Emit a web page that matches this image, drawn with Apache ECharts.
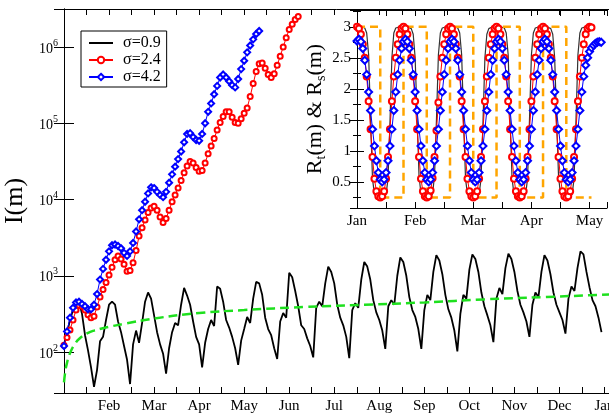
<!DOCTYPE html>
<html>
<head>
<meta charset="utf-8">
<title>I(m) and R(m)</title>
<script src="https://cdn.jsdelivr.net/npm/echarts@6/dist/echarts.min.js"></script>
<style>
  html, body { margin: 0; padding: 0; background: #fff; }
  #chart { width: 609px; height: 414px; }
</style>
</head>
<body>
<div id="chart"></div>
<script>
const SERIF = '"Liberation Serif", "DejaVu Serif", serif';

const MONTHS = ["Jan", "Feb", "Mar", "Apr", "May", "Jun", "Jul", "Aug", "Sep", "Oct", "Nov", "Dec", "Jan"];

// main panel: days since Jan 1, one value every 2 days
const MAIN_STEP = 2;

const blackMain = [
  123, 178, 263, 355, 417, 457, 316, 166, 105, 63, 35,
  58, 138, 158, 263, 417, 457, 417, 251, 182, 120, 79, 38,
  126, 191, 132, 240, 457, 603, 501, 302, 182, 126, 95, 52,
  112, 182, 240, 224, 417, 692, 550, 417, 251, 158, 126, 63,
  132, 200, 263, 219, 724, 676, 457, 263, 209, 158, 112, 68,
  141, 200, 288, 240, 501, 832, 794, 562, 282, 200, 166, 112, 81,
  251, 324, 282, 1096, 955, 631, 398, 224, 200, 151, 120, 85,
  380, 457, 398, 794, 1318, 1122, 794, 417, 282, 224, 158, 83,
  355, 437, 380, 891, 1514, 1318, 891, 479, 331, 263, 191, 110,
  398, 479, 417, 1000, 1738, 1514, 1000, 525, 355, 288, 200, 110,
  355, 562, 479, 1122, 1862, 1585, 1047, 562, 363, 282, 191, 102,
  316, 562, 501, 1202, 1905, 1660, 1122, 603, 398, 302, 224, 135,
  501, 692, 575, 1259, 1950, 1660, 1122, 631, 417, 331, 251, 158,
  417, 603, 525, 1122, 1862, 1585, 1047, 603, 417, 331, 263, 174,
  501, 724, 631, 1259, 2089, 1905, 1122, 708, 479, 398, 282, 182,
];

const redMain = [
  123, 155, 195, 263, 355, 407, 398, 355, 309, 282,
  295, 389, 525, 661, 813, 1023, 1288, 1622, 1820, 1660,
  1413, 1148, 1175, 1479, 2138, 3311, 4266, 5370, 6761, 7762,
  8128, 7244, 5888, 5012, 5623, 7244, 9333, 11480, 14130, 17780,
  22390, 27540, 31620, 30200, 26300, 23440, 23990, 30200, 39810, 50120,
  63100, 81280, 102300, 123000, 141300, 141300, 120200, 102300, 100000, 114800,
  134900, 158500, 223900, 331100, 478600, 602600, 616600, 524800, 436500, 398100,
  446700, 575400, 758600, 1000000, 1318000, 1698000, 1995000, 2291000, 2512000,
];

const blueMain = [
  120, 186, 282, 380, 447, 457, 427, 398, 363, 363,
  417, 575, 891, 1230, 1622, 2089, 2512, 2570, 2455, 2291,
  1995, 1820, 2089, 2692, 3802, 5495, 7244, 9333, 12020, 14450,
  14130, 12590, 11480, 10720, 12590, 16600, 21380, 26920, 33880, 42660,
  56230, 72440, 74130, 66070, 60260, 58880, 72440, 100000, 141300, 182000,
  239900, 309000, 398100, 436500, 398100, 354800, 316200, 295100, 380200, 512900,
  660700, 851100, 1047000, 1259000, 1479000, 1622000,
];

const greenDays = [0, 1, 2, 3, 5, 7, 10, 15, 20, 30, 40, 60, 90, 120, 160, 200, 240, 280, 320, 365];
const greenMain = [40, 58, 72, 85, 107, 125, 148, 174, 191, 214, 234, 275, 324, 355, 389, 417, 447, 490, 525, 570];

// inset: one value per day from Jan 1
const blackInset = [
  3.0, 3.0, 3.0, 3.0, 2.98, 2.9, 2.55, 1.5, 0.55, 0.3, 0.26, 0.25, 0.25,
  0.25, 0.26, 0.3, 0.55, 1.45, 2.5, 2.9, 2.98, 3.0, 3.0, 3.0, 3.0,
  3.0, 3.0, 3.0, 2.97, 2.88, 2.5, 1.55, 0.6, 0.31, 0.26, 0.25, 0.25,
  0.25, 0.26, 0.31, 0.6, 1.5, 2.55, 2.9, 2.98, 3.0, 3.0, 3.0, 3.0,
  3.0, 3.0, 3.0, 2.98, 2.9, 2.55, 1.5, 0.55, 0.3, 0.26, 0.25, 0.25,
  0.25, 0.26, 0.3, 0.55, 1.45, 2.5, 2.88, 2.97, 3.0, 3.0, 3.0, 3.0,
  3.0, 3.0, 3.0, 2.98, 2.9, 2.55, 1.5, 0.56, 0.3, 0.26, 0.25, 0.25,
  0.25, 0.26, 0.3, 0.55, 1.5, 2.55, 2.9, 2.98, 3.0, 3.0, 3.0, 3.0,
  3.0, 3.0, 3.0, 2.97, 2.88, 2.5, 1.5, 0.58, 0.31, 0.26, 0.25, 0.25,
  0.25, 0.26, 0.3, 0.55, 1.5, 2.55, 2.9, 2.98, 3.0, 3.0, 3.0, 3.0,
  3.0, 3.0,
];

const redInset = [
  3.0, 2.97, 2.88, 2.72, 2.5, 2.2, 1.8, 1.35, 0.9, 0.55, 0.35, 0.27, 0.25,
  0.27, 0.35, 0.55, 0.9, 1.35, 1.8, 2.2, 2.5, 2.72, 2.88, 2.97, 3.0,
  2.97, 2.88, 2.72, 2.5, 2.2, 1.8, 1.35, 0.9, 0.55, 0.35, 0.27, 0.25,
  0.27, 0.36, 0.56, 0.9, 1.33, 1.78, 2.2, 2.5, 2.72, 2.88, 2.97, 3.0,
  2.97, 2.88, 2.72, 2.5, 2.2, 1.8, 1.35, 0.9, 0.55, 0.35, 0.27, 0.25,
  0.27, 0.35, 0.55, 0.9, 1.35, 1.8, 2.2, 2.5, 2.72, 2.88, 2.97, 3.0,
  2.97, 2.88, 2.72, 2.5, 2.2, 1.8, 1.35, 0.9, 0.55, 0.35, 0.27, 0.25,
  0.27, 0.35, 0.55, 0.9, 1.35, 1.8, 2.2, 2.5, 2.72, 2.88, 2.97, 3.0,
  2.97, 2.88, 2.72, 2.5, 2.2, 1.8, 1.35, 0.9, 0.55, 0.35, 0.27, 0.25,
  0.27, 0.35, 0.55, 0.9, 1.35, 1.8, 2.2, 2.5, 2.72, 2.88, 2.97, 3.0,
  2.99,
];

const blueInset = [
  2.77,
  2.8, 2.76, 2.65, 2.46, 2.23, 1.95, 1.65, 1.35, 1.08, 0.84, 0.65, 0.54, 0.5,
  0.54, 0.65, 0.84, 1.08, 1.35, 1.65, 1.95, 2.23, 2.46, 2.65, 2.76, 2.8,
  2.76, 2.65, 2.46, 2.23, 1.95, 1.65, 1.35, 1.08, 0.84, 0.65, 0.54, 0.5,
  0.54, 0.65, 0.84, 1.08, 1.35, 1.65, 1.95, 2.23, 2.46, 2.65, 2.76, 2.8,
  2.76, 2.65, 2.46, 2.23, 1.95, 1.65, 1.35, 1.08, 0.84, 0.65, 0.54, 0.5,
  0.54, 0.65, 0.84, 1.08, 1.35, 1.65, 1.95, 2.23, 2.46, 2.65, 2.76, 2.8,
  2.76, 2.65, 2.46, 2.23, 1.95, 1.65, 1.35, 1.08, 0.84, 0.65, 0.54, 0.5,
  0.54, 0.65, 0.84, 1.08, 1.35, 1.65, 1.95, 2.23, 2.46, 2.65, 2.76, 2.8,
  2.76, 2.65, 2.46, 2.23, 1.95, 1.65, 1.35, 1.08, 0.84, 0.65, 0.54, 0.5,
  0.54, 0.65, 0.84, 1.08, 1.35, 1.65, 1.95, 2.2, 2.38, 2.5, 2.6, 2.66, 2.7, 2.73, 2.75, 2.76, 2.75,
];

// square wave: level holds from each day until the next one
const orangeDays = [0, 12, 24, 36, 48, 60, 72, 84, 96, 108, 121];
const orangeLevels = [3, 0.25, 3, 0.25, 3, 0.25, 3, 0.25, 3, 0.25, 0.25];

const SERIES_NAMES = ["σ=0.9", "σ=2.4", "σ=4.2"];

const toPairs = (values, step) => values.map((v, i) => [i * step, v]);
const zipPairs = (xs, ys) => xs.map((x, i) => [x, ys[i]]);

const monthLabel = (value) => (value % 30 === 0 ? MONTHS[value / 30] : "");

const powerLabel = (value) => {
  const exp = Math.log10(value);
  const rounded = Math.round(exp);
  return Math.abs(exp - rounded) < 1e-6 ? `{b|10}{sup|${rounded}}` : "";
};

const halfStepLabel = (value) => {
  const doubled = value * 2;
  return Math.abs(doubled - Math.round(doubled)) < 1e-9 ? String(value) : "";
};

const black = "#000";
const axisLine = { lineStyle: { color: black, width: 1 } };
const tick = (length) => ({ inside: true, length, lineStyle: { color: black, width: 1 } });

const timeAxis = (gridIndex, max, position, labels) => ({
  type: "value",
  gridIndex,
  position,
  min: 0,
  max,
  interval: 15,
  axisLine,
  axisTick: tick(6),
  splitLine: { show: false },
  axisLabel: labels
    ? {
        show: true,
        formatter: labels,
        fontFamily: SERIF,
        fontSize: 15,
        color: black,
        margin: 6,
      }
    : { show: false },
});

const chart = echarts.init(document.getElementById("chart"));

chart.setOption({
  animation: false,
  backgroundColor: "#fff",
  grid: [
    { left: 64, top: 9, width: 548, height: 384, outerBoundsMode: "none" },
    { left: 357, top: 10, width: 250, height: 198, outerBoundsMode: "none" },
  ],
  legend: {
    // the plain black line gets a flat bar icon instead of the default dot
    data: [
      { name: SERIES_NAMES[0], icon: "path://M0,0H24V2H0Z" },
      SERIES_NAMES[1],
      SERIES_NAMES[2],
    ],
    orient: "vertical",
    left: 81,
    top: 31,
    itemWidth: 24,
    itemHeight: 8,
    itemGap: 1,
    padding: [4, 6, 2, 7],
    borderColor: black,
    borderWidth: 1,
    backgroundColor: "#fff",
    selectedMode: false,
    textStyle: {
      fontFamily: SERIF,
      fontSize: 16,
      color: black,
      lineHeight: 16,
      padding: [0, 0, 0, 5],
    },
  },
  xAxis: [
    timeAxis(0, 365, "bottom", (v) => (v > 0 ? monthLabel(v) : "")),
    timeAxis(0, 365, "top", null),
    timeAxis(1, 129, "bottom", monthLabel),
    timeAxis(1, 129, "top", null),
  ],
  yAxis: [
    {
      type: "log",
      gridIndex: 0,
      logBase: 10,
      min: 29,
      max: 3.15e6,
      splitNumber: 5,
      axisLine,
      axisTick: tick(10),
      splitLine: { show: false },
      minorTick: { show: false },
      axisLabel: {
        formatter: powerLabel,
        margin: 6,
        rich: {
          b: { fontFamily: SERIF, fontSize: 14, color: black, lineHeight: 18, verticalAlign: "bottom" },
          sup: { fontFamily: SERIF, fontSize: 10, color: black, lineHeight: 12, verticalAlign: "top" },
        },
      },
      name: "I(m)",
      nameLocation: "middle",
      nameGap: 30,
      nameTextStyle: { fontFamily: SERIF, fontSize: 26, color: black },
    },
    {
      type: "log",
      gridIndex: 0,
      position: "right",
      logBase: 10,
      min: 29,
      max: 3.15e6,
      splitNumber: 5,
      axisLine,
      axisTick: tick(10),
      splitLine: { show: false },
      axisLabel: { show: false },
    },
    {
      type: "value",
      gridIndex: 1,
      min: 0.08,
      max: 3.27,
      splitNumber: 6,
      axisLine,
      axisTick: tick(7),
      minorTick: { show: true, splitNumber: 2, length: 4, lineStyle: { color: black } },
      splitLine: { show: false },
      axisLabel: {
        formatter: halfStepLabel,
        fontFamily: SERIF,
        fontSize: 15,
        color: black,
        margin: 6,
      },
      name: "{n|R}{s|t}{n|(m) & R}{s|s}{n|(m)}",
      nameLocation: "middle",
      nameGap: 26,
      nameTextStyle: {
        rich: {
          n: { fontFamily: SERIF, fontSize: 22, color: black, lineHeight: 26 },
          s: { fontFamily: SERIF, fontSize: 14, color: black, lineHeight: 14, verticalAlign: "bottom" },
        },
      },
    },
    {
      type: "value",
      gridIndex: 1,
      position: "right",
      min: 0.08,
      max: 3.27,
      splitNumber: 6,
      axisLine,
      axisTick: tick(7),
      minorTick: { show: true, splitNumber: 2, length: 4, lineStyle: { color: black } },
      splitLine: { show: false },
      axisLabel: { show: false },
    },
  ],
  series: [
    {
      name: SERIES_NAMES[0],
      type: "line",
      xAxisIndex: 0,
      yAxisIndex: 0,
      data: toPairs(blackMain, MAIN_STEP),
      symbol: "none",
      itemStyle: { color: black },
      lineStyle: { color: black, width: 1.8 },
    },
    {
      name: "mean",
      type: "line",
      xAxisIndex: 0,
      yAxisIndex: 0,
      data: zipPairs(greenDays, greenMain),
      smooth: true,
      symbol: "none",
      lineStyle: { color: "#1ee01e", width: 2.5, type: [9, 5] },
    },
    {
      name: SERIES_NAMES[1],
      type: "line",
      xAxisIndex: 0,
      yAxisIndex: 0,
      data: toPairs(redMain, MAIN_STEP),
      symbol: "emptyCircle",
      symbolSize: 5,
      showAllSymbol: true,
      itemStyle: { color: "#ff0000", borderWidth: 1 },
      lineStyle: { color: "#ff0000", width: 1 },
    },
    {
      name: SERIES_NAMES[2],
      type: "line",
      xAxisIndex: 0,
      yAxisIndex: 0,
      data: toPairs(blueMain, MAIN_STEP),
      symbol: "emptyDiamond",
      symbolSize: 6,
      showAllSymbol: true,
      itemStyle: { color: "#0000ff", borderWidth: 1 },
      lineStyle: { color: "#0000ff", width: 1 },
    },
    {
      name: "inset σ=0.9",
      type: "line",
      xAxisIndex: 2,
      yAxisIndex: 2,
      data: toPairs(blackInset, 1),
      symbol: "none",
      lineStyle: { color: "#333", width: 1.2 },
    },
    {
      name: "R_s",
      type: "line",
      xAxisIndex: 2,
      yAxisIndex: 2,
      data: zipPairs(orangeDays, orangeLevels),
      step: "end",
      symbol: "none",
      lineStyle: { color: "#ffa500", width: 2.5, type: [8, 5] },
    },
    {
      name: "inset σ=2.4",
      type: "line",
      xAxisIndex: 2,
      yAxisIndex: 2,
      data: toPairs(redInset, 1),
      symbol: "emptyCircle",
      symbolSize: 6,
      showAllSymbol: true,
      itemStyle: { color: "#ff0000", borderWidth: 1 },
      lineStyle: { color: "#ff0000", width: 1 },
    },
    {
      name: "inset σ=4.2",
      type: "line",
      xAxisIndex: 2,
      yAxisIndex: 2,
      data: toPairs(blueInset, 1),
      symbol: "emptyDiamond",
      symbolSize: 7,
      showAllSymbol: true,
      itemStyle: { color: "#0000ff", borderWidth: 1 },
      lineStyle: { color: "#0000ff", width: 1 },
    },
  ],
});
</script>
</body>
</html>
